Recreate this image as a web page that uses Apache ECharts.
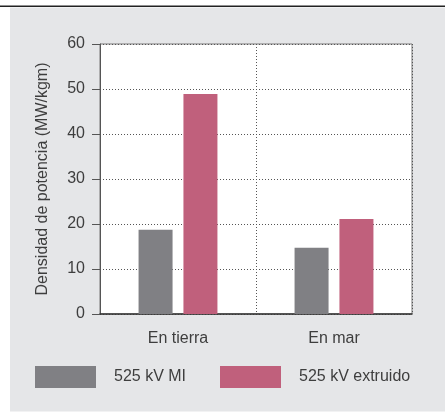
<!DOCTYPE html>
<html>
<head>
<meta charset="utf-8">
<script src="https://cdn.jsdelivr.net/npm/echarts@6/dist/echarts.min.js"></script>
<style>html,body{margin:0;padding:0;background:#fff}#c{width:445px;height:412px}</style>
</head>
<body>
<div id="c"></div>
<script>
var categories = ['En tierra', 'En mar'];
var seriesNames = ['525 kV MI', '525 kV extruido'];
var valuesMI = [18.7, 14.7];
var valuesExtruido = [48.9, 21.1];
var yTicks = [0, 10, 20, 30, 40, 50, 60];

var FONT = 'Liberation Sans, Arial, Helvetica, sans-serif';
var TXT = '#3e3e3e';
var chart = echarts.init(document.getElementById('c'));
chart.setOption({
  backgroundColor: '#fff',
  animation: false,
  graphic: [
    {type: 'rect', shape: {x: 10, y: 7.5, width: 435, height: 404}, style: {fill: '#e5e6e8'}, z: -10},
    {type: 'rect', shape: {x: 0, y: 5.5, width: 445, height: 1.6}, style: {fill: '#222'}, z: -9}
  ],
  grid: {left: 100, right: 33, top: 44, bottom: 98, show: true, backgroundColor: '#fff', borderColor: '#777', borderWidth: 1},
  legend: [
    {data: [seriesNames[0]], left: 30, top: 361, itemWidth: 61, itemHeight: 22, icon: 'rect',
     textStyle: {fontFamily: FONT, fontSize: 16, color: TXT, padding: [0, 0, 0, 13]}},
    {data: [seriesNames[1]], left: 215, top: 361, itemWidth: 61, itemHeight: 22, icon: 'rect',
     textStyle: {fontFamily: FONT, fontSize: 16, color: TXT, padding: [0, 0, 0, 13]}}
  ],
  xAxis: {
    type: 'category', data: categories, boundaryGap: true,
    axisLine: {show: true, lineStyle: {color: '#333', width: 1.5}},
    axisTick: {show: false},
    axisLabel: {fontFamily: FONT, fontSize: 16, color: TXT, margin: 17},
    splitLine: {show: true, interval: 0, lineStyle: {color: '#555', type: [1, 2], width: 1}}
  },
  yAxis: {
    type: 'value', min: yTicks[0], max: yTicks[yTicks.length - 1], interval: 10,
    name: 'Densidad de potencia (MW/kgm)', nameLocation: 'middle', nameGap: 49,
    nameTextStyle: {fontFamily: FONT, fontSize: 16, color: TXT},
    axisLine: {show: true, lineStyle: {color: '#555', width: 1}},
    axisTick: {show: true, length: 8, lineStyle: {color: '#555'}},
    axisLabel: {fontFamily: FONT, fontSize: 16, color: TXT, margin: 15},
    splitLine: {show: true, lineStyle: {color: '#555', type: [1, 2], width: 1}}
  },
  series: [
    {name: seriesNames[0], type: 'bar', data: valuesMI, barWidth: 34, barGap: '32%', itemStyle: {color: '#808084'}, z: 3},
    {name: seriesNames[1], type: 'bar', data: valuesExtruido, barWidth: 34, barGap: '32%', itemStyle: {color: '#c0607c'}, z: 3}
  ]
});
</script>
</body>
</html>
